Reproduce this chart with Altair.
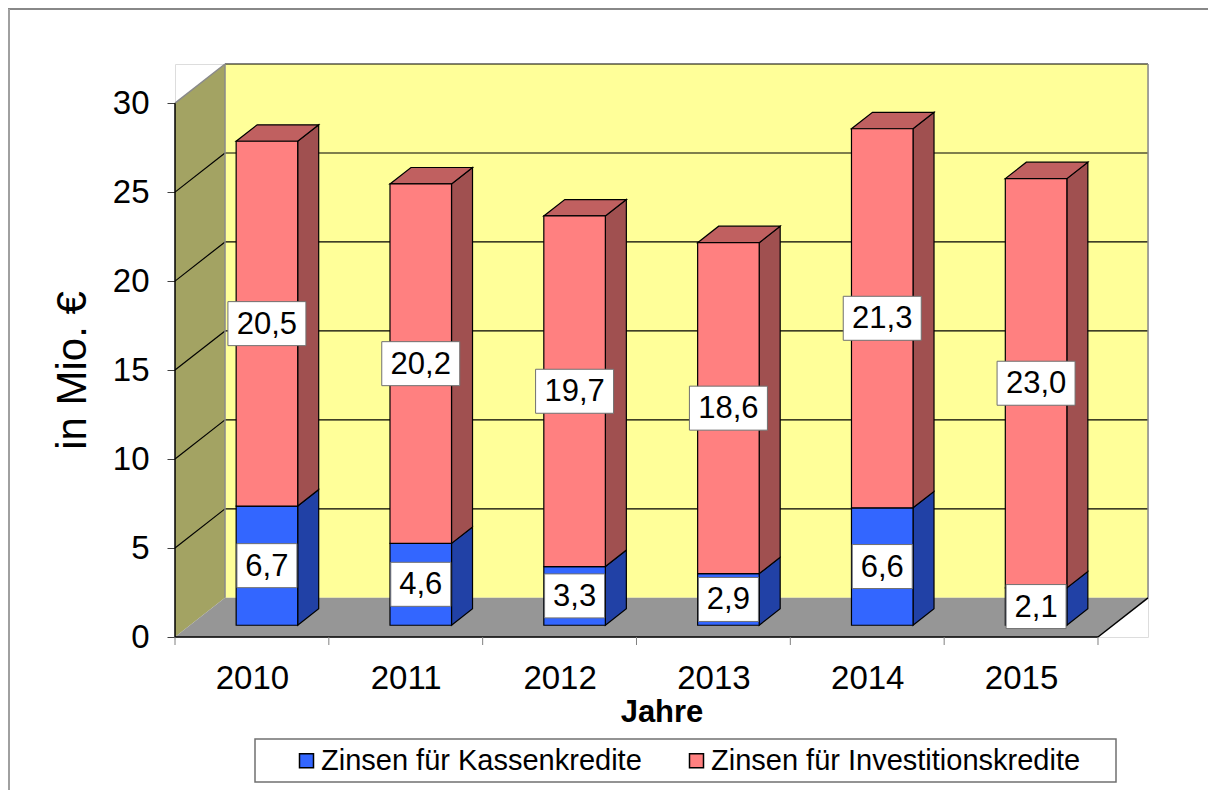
import json
import altair as alt
import pandas as pd

# ---------------- data ----------------
years = ["2010", "2011", "2012", "2013", "2014", "2015"]
kassen = [6.7, 4.6, 3.3, 2.9, 6.6, 2.1]
invest = [20.5, 20.2, 19.7, 18.6, 21.3, 23.0]
series = ["Zinsen für Kassenkredite", "Zinsen für Investitionskredite"]
y_ticks = [0, 5, 10, 15, 20, 25, 30]

# ---------------- geometry of the pseudo-3D frame ----------------
N = len(years)
YTOP = 30
SLOT_PX = 153.8
UNIT_PX = 17.8
DEPTH_PX = 50
DX = DEPTH_PX / SLOT_PX      # wall depth in slot units
DY = 2.2                     # wall depth in value units
TF = 0.3                     # depth of bar front face
TD = 0.42                    # bar depth
BW = 0.4                     # bar width (slot units)
W = round(SLOT_PX * N + DEPTH_PX)
H = round(UNIT_PX * (YTOP + DY))

FONT = "Liberation Sans"
BLUE, BLUE_SIDE = "#3366FF", "#2141A6"
PINK, PINK_SIDE, PINK_TOP = "#FF8080", "#A05050", "#C06060"

xs = alt.Scale(domain=[0, N + DX], nice=False, zero=False)
ys = alt.Scale(domain=[0, YTOP + DY], nice=False, zero=False)

x_axis = alt.Axis(
    values=[i + 0.5 for i in range(N)],
    labelExpr=f"{json.dumps(years)}[floor(datum.value)]",
    domain=False, ticks=False, grid=False,
    labelFontSize=33, labelFont=FONT, labelColor="black", labelPadding=25,
    titleFontSize=31, titleFont=FONT, titleFontWeight="bold", titleColor="black",
    titlePadding=2,
)
y_axis = alt.Axis(
    values=y_ticks, domain=False, grid=False,
    tickSize=8, tickColor="#404040", tickWidth=1,
    labelFontSize=33, labelFont=FONT, labelColor="black", labelPadding=18,
    titleFontSize=42, titleFont=FONT, titleFontWeight="normal", titleColor="black",
    titleX=-103, titleY=(H - (YTOP / 2) * UNIT_PX), titleBaseline="middle",
    titleAngle=-90, titleAlign="center",
)


def X(f):
    return alt.X(f, type="quantitative", scale=xs, axis=x_axis, title="Jahre")


def Y(f):
    return alt.Y(f, type="quantitative", scale=ys, axis=y_axis, title="in Mio. €", stack=None)


def fmt(v):
    return f"{v:.1f}".replace(".", ",")


# ---------------- derived tables ----------------
fronts, sides, tops, labels = [], [], [], []
yb = TF * DY
for i in range(N):
    xl = i + 0.5 - BW / 2 + TF * DX
    xr = xl + BW
    segs = [(series[0], 0, kassen[i]), (series[1], kassen[i], kassen[i] + invest[i])]
    for s, lo, hi in segs:
        fronts.append(dict(x=xl, x2=xr, y=yb + lo, y2=yb + hi, series=s))
        sid = f"{i}-{s}"
        sides.append(dict(id=sid, series=s, x=xr, y=yb + lo, y2=yb + hi))
        sides.append(dict(id=sid, series=s, x=xr + TD * DX, y=yb + lo + TD * DY, y2=yb + hi + TD * DY))
        labels.append(dict(x=(xl + xr) / 2, y=yb + (lo + hi) / 2, label=fmt(hi - lo)))
    T = yb + kassen[i] + invest[i]
    d = TD * DY
    for xx, a, b in [(xl, T, T), (xl + TD * DX, T, T + d), (xr, T, T + d), (xr + TD * DX, T + d, T + d)]:
        tops.append(dict(id=i, x=xx, y=a, y2=b))

fronts = pd.DataFrame(fronts)
sides = pd.DataFrame(sides)
tops = pd.DataFrame(tops)
labels = pd.DataFrame(labels)
labels["n"] = labels["label"].str.len()

back = pd.DataFrame({"x": [DX], "x2": [N + DX], "y": [DY], "y2": [YTOP + DY]})
leftw = pd.DataFrame({"x": [0, DX], "y": [0, DY], "y2": [YTOP, YTOP + DY]})
floor = pd.DataFrame({"x": [0, DX, N, N + DX], "y": [0, 0, 0, DY], "y2": [0, DY, DY, DY]})

grid_back = pd.DataFrame({"x": DX, "x2": N + DX, "y": [v + DY for v in y_ticks[1:]]})
grid_left = pd.DataFrame({"x": 0, "x2": DX, "y": y_ticks[1:-1], "y2": [v + DY for v in y_ticks[1:-1]]})
edges_black = pd.DataFrame([
    dict(x=0, x2=0, y=0, y2=YTOP),
    dict(x=0, x2=N, y=0, y2=0),
    dict(x=N, x2=N + DX, y=0, y2=DY),
])
edges_gray = pd.DataFrame([
    dict(x=DX, x2=DX, y=DY, y2=YTOP + DY),
    dict(x=N + DX, x2=N + DX, y=DY, y2=YTOP + DY),
    dict(x=0, x2=DX, y=YTOP, y2=YTOP + DY),
])
xticks = pd.DataFrame({"x": list(range(N + 1))})
one = pd.DataFrame({"a": [0]})

# ---------------- layers ----------------
layers = []

# outer chart border (top and left)
layers.append(alt.Chart(one).mark_rule(color="#606060", strokeWidth=1.5).encode(
    x=alt.value(-167), x2=alt.value(W + 60), y=alt.value(-55)))
layers.append(alt.Chart(one).mark_rule(color="#A0A0A0", strokeWidth=2).encode(
    x=alt.value(-166), y=alt.value(-55), y2=alt.value(H + 160)))

# walls and floor
layers.append(alt.Chart(back).mark_rect(color="#FFFF99").encode(x=X("x"), x2="x2", y=Y("y"), y2="y2"))
layers.append(alt.Chart(leftw).mark_area(color="#A3A363", orient="vertical").encode(x=X("x"), y=Y("y"), y2="y2"))
layers.append(alt.Chart(floor).mark_area(color="#969696", orient="vertical").encode(x=X("x"), y=Y("y"), y2="y2"))

# grid lines
layers.append(alt.Chart(grid_back).mark_rule(color="black", strokeWidth=1.2).encode(x=X("x"), x2="x2", y=Y("y")))
layers.append(alt.Chart(grid_left).mark_rule(color="black", strokeWidth=1.2).encode(x=X("x"), x2="x2", y=Y("y"), y2="y2"))
layers.append(alt.Chart(edges_gray).mark_rule(color="#8A8A8A", strokeWidth=1.5).encode(x=X("x"), x2="x2", y=Y("y"), y2="y2"))
layers.append(alt.Chart(edges_black).mark_rule(color="black", strokeWidth=1.5).encode(x=X("x"), x2="x2", y=Y("y"), y2="y2"))

# x tick marks
layers.append(alt.Chart(xticks).mark_rule(color="#808080", strokeWidth=1).encode(
    x=X("x"), y=alt.value(H), y2=alt.value(H + 8)))

# bars: side faces, top faces, front faces
for s, col in [(series[0], BLUE_SIDE), (series[1], PINK_SIDE)]:
    layers.append(alt.Chart(sides).transform_filter(alt.datum.series == s).mark_area(
        color=col, stroke="black", strokeWidth=1.2, orient="vertical", strokeJoin="miter").encode(
        x=X("x"), y=Y("y"), y2="y2", detail="id:N"))
layers.append(alt.Chart(tops).mark_area(
    color=PINK_TOP, stroke="black", strokeWidth=1.2, orient="vertical", strokeJoin="miter").encode(
    x=X("x"), y=Y("y"), y2="y2", detail="id:N"))
layers.append(alt.Chart(fronts).mark_rect(stroke="black", strokeWidth=1.2).encode(
    x=X("x"), x2="x2", y=Y("y"), y2="y2",
    color=alt.Color("series:N", title=None,
                    scale=alt.Scale(domain=series, range=[BLUE, PINK]),
                    legend=alt.Legend(
                        orient="none", legendX=117, legendY=682, direction="horizontal",
                        symbolType="square", symbolSize=196, symbolStrokeColor="black",
                        symbolStrokeWidth=1.5, symbolOpacity=1,
                        labelFontSize=29, labelFont=FONT, labelColor="black",
                        labelOffset=0, columnPadding=40, labelLimit=600, padding=0))))

# legend box
layers.append(alt.Chart(one).mark_rect(fill="white", stroke="#707070", strokeWidth=1.5).encode(
    x=alt.value(80), x2=alt.value(941), y=alt.value(675), y2=alt.value(718)))

# value labels with white boxes
for n, w in [(4, 78), (3, 60)]:
    h = 44
    path = f"M-1,{-h / w:.4f}L1,{-h / w:.4f}L1,{h / w:.4f}L-1,{h / w:.4f}Z"
    layers.append(alt.Chart(labels).transform_filter(alt.datum.n == n).mark_point(
        shape=path, size=w * w, filled=True, fill="white", stroke="#707070",
        strokeWidth=1, opacity=1).encode(x=X("x"), y=Y("y")))
layers.append(alt.Chart(labels).mark_text(
    font=FONT, fontSize=31, color="black", align="center", baseline="middle", dy=1).encode(
    x=X("x"), y=Y("y"), text="label:N"))

chart = alt.layer(*layers).properties(
    width=W, height=H,
    autosize=alt.AutoSizeParams(type="none"),
    padding={"left": 167, "top": 56, "right": 1215 - 167 - W, "bottom": 782 - 56 - H},
).configure_view(stroke=None).configure(background="white")

chart.save("out.html", embed_options={"renderer": "svg", "actions": False})
